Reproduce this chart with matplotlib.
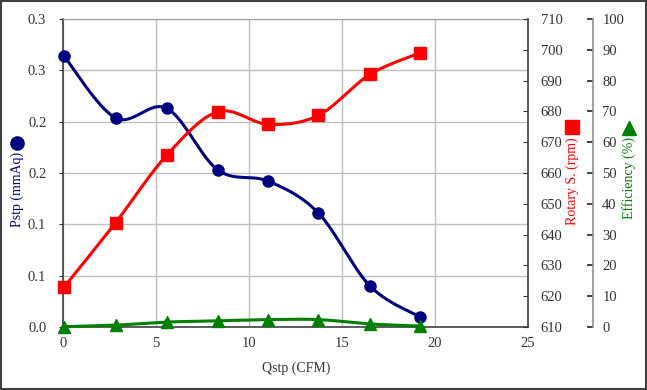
import numpy as np
import matplotlib
matplotlib.use('Agg')
import matplotlib.pyplot as plt
from matplotlib.lines import Line2D
from matplotlib.patches import Rectangle

plt.rcParams['font.family'] = ['Liberation Serif', 'DejaVu Serif']

# data
qstp = [0.05, 2.83, 5.58, 8.32, 11.04, 13.73, 16.5, 19.2]
pstp = [0.264, 0.2036, 0.213, 0.153, 0.142, 0.111, 0.040, 0.0097]
rpm = [622.9, 643.9, 665.8, 679.9, 675.8, 678.7, 692.0, 699.0]
eff = [0.1, 0.6, 1.6, 2.0, 2.4, 2.4, 1.0, 0.3]

p_ticks = [0, 0.05, 0.10, 0.15, 0.20, 0.25, 0.30]
p_labels = ['0.0', '0.1', '0.1', '0.2', '0.2', '0.3', '0.3']
rpm_ticks = list(range(610, 711, 10))
eff_ticks = list(range(0, 101, 10))
x_ticks = [0, 5, 10, 15, 20, 25]

NAVY = '#000080'
RED = '#ff0000'
GREEN = '#008000'


def smooth(x, y, n=30):
    # Excel-style smoothed line (cardinal bezier through the points)
    x = np.asarray(x, float)
    y = np.asarray(y, float)
    px = np.concatenate([[x[0]], x, [x[-1]]])
    py = np.concatenate([[y[0]], y, [y[-1]]])
    xs, ys = [], []
    t = np.linspace(0, 1, n)
    for i in range(1, len(px) - 2):
        p0 = np.array([px[i], py[i]])
        p3 = np.array([px[i + 1], py[i + 1]])
        c1 = p0 + (p3 - np.array([px[i - 1], py[i - 1]])) / 6
        c2 = p3 - (np.array([px[i + 2], py[i + 2]]) - p0) / 6
        b = ((1 - t) ** 3)[:, None] * p0 + (3 * (1 - t) ** 2 * t)[:, None] * c1 \
            + (3 * (1 - t) * t ** 2)[:, None] * c2 + (t ** 3)[:, None] * p3
        xs.extend(b[:, 0])
        ys.extend(b[:, 1])
    return xs, ys


W, H = 647, 390
fig = plt.figure(figsize=(W / 100, H / 100), dpi=100)
ax = fig.add_axes([63 / W, 1 - 327 / H, 465 / W, 308 / H])
ax2 = ax.twinx()
ax3 = ax.twinx()

# grid + left axis
ax.set_xlim(0, 25)
ax.set_ylim(0, 0.3)
ax.set_xticks(x_ticks)
ax.set_yticks(p_ticks)
ax.set_yticklabels(p_labels)
ax.grid(True, color='#c0c0c0', linewidth=1.0)
ax.set_axisbelow(True)
ax.tick_params(axis='x', length=0, pad=7, labelsize=10.5, labelcolor='#333333')
ax.tick_params(axis='y', length=3, direction='out', pad=9, labelsize=10.5,
               labelcolor='#333333', color='#333333')
for side in ['left', 'bottom']:
    ax.spines[side].set_color('#404040')
    ax.spines[side].set_linewidth(1.2)
ax.spines['top'].set_color('#a0a0a0')
ax.spines['right'].set_visible(False)

# rpm axis
ax2.set_ylim(610, 710)
ax2.set_yticks(rpm_ticks)
ax2.tick_params(axis='y', direction='in', length=3.5, pad=9, labelsize=10.5,
                labelcolor='#333333', color='#333333')
for side in ['left', 'top', 'bottom']:
    ax2.spines[side].set_visible(False)
ax2.spines['right'].set_color('#404040')
ax2.spines['right'].set_linewidth(1.2)

# efficiency axis
ax3.set_ylim(0, 100)
ax3.set_yticks(eff_ticks)
ax3.spines['right'].set_position(('axes', (592.5 - 63) / 465))
ax3.tick_params(axis='y', direction='in', length=4, pad=7, labelsize=10.5,
                labelcolor='#333333', color='#222222', width=1.2)
for side in ['left', 'top', 'bottom']:
    ax3.spines[side].set_visible(False)
ax3.spines['right'].set_color('#909090')
ax3.spines['right'].set_linewidth(1.2)

# series
sx, sy = smooth(qstp, eff)
ax3.plot(sx, sy, color=GREEN, linewidth=2.2, clip_on=False)
ax3.plot(qstp, eff, linestyle='none', marker='^', color=GREEN, markersize=8, clip_on=False)

sx, sy = smooth(qstp, rpm)
ax2.plot(sx, sy, color=RED, linewidth=2.2, clip_on=False)
ax2.plot(qstp, rpm, linestyle='none', marker='s', color=RED, markersize=8, clip_on=False)

sx, sy = smooth(qstp, pstp)
ax.plot(sx, sy, color=NAVY, linewidth=2.2, clip_on=False, zorder=3)
ax.plot(qstp, pstp, linestyle='none', marker='o', color=NAVY, markersize=8, clip_on=False, zorder=3)

# axis titles
fig.text(296 / W, 1 - 368 / H, 'Qstp (CFM)', ha='center', va='center', fontsize=10, color='#333333')
fig.text(17 / W, 1 - 189 / H, 'Pstp (mmAq)', ha='center', va='center', rotation=90, fontsize=10, color=NAVY)
fig.text(572 / W, 1 - 181.5 / H, 'Rotary S. (rpm)', ha='center', va='center', rotation=90, fontsize=10, color=RED)
fig.text(629 / W, 1 - 178.5 / H, 'Efficiency (%)', ha='center', va='center', rotation=90, fontsize=10, color=GREEN)

fig.add_artist(Line2D([17 / W], [1 - 143 / H], marker='o', markersize=9.5, color=NAVY, transform=fig.transFigure))
fig.add_artist(Line2D([572 / W], [1 - 127 / H], marker='s', markersize=9.5, color=RED, transform=fig.transFigure))
fig.add_artist(Line2D([629 / W], [1 - 128 / H], marker='^', markersize=10, color=GREEN, transform=fig.transFigure))

# outer border
fig.add_artist(Rectangle((0.001, 0.002), 0.997, 0.995, transform=fig.transFigure,
                         fill=False, edgecolor='#404040', linewidth=1.5))

fig.savefig('out.png', dpi=100)
